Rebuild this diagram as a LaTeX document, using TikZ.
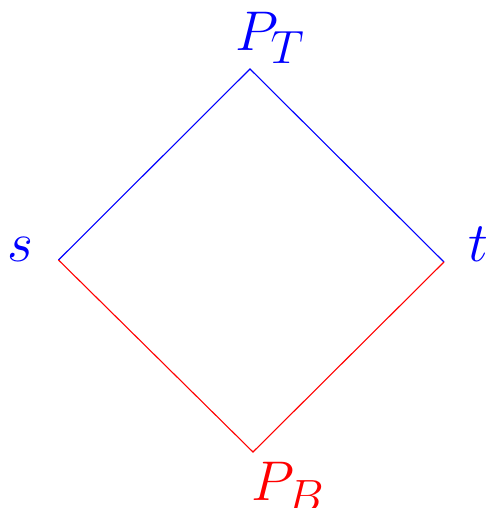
\documentclass[tikz,border=0pt]{standalone}
\usepackage{graphicx}
\begin{document}
\begin{tikzpicture}[x=1pt,y=-1pt,
  lbl/.style={inner sep=0pt,anchor=base},
  edge/.style={line width=1.1pt}]
\newcommand{\biglbl}[1]{\scalebox{2.25}{\Huge $#1$}}
\useasboundingbox (0,0) rectangle (489,508);
\coordinate (top) at (250,69);
\coordinate (s) at (58.5,260);
\coordinate (t) at (444,262);
\coordinate (bot) at (253,452);
\node[lbl,text=blue] (PT) at (270,50.5) {\biglbl{P_T}};
\node[lbl,text=blue] (sl) at (20,261.5) {\biglbl{s}};
\node[lbl,text=blue] (tl) at (478,261.5) {\biglbl{t}};
\node[lbl,text=red] (PB) at (288,500) {\biglbl{P_B}};
\draw[edge,blue] (s) -- (top) -- (t);
\draw[edge,red] (s) -- (bot) -- (t);
\end{tikzpicture}
\end{document}
